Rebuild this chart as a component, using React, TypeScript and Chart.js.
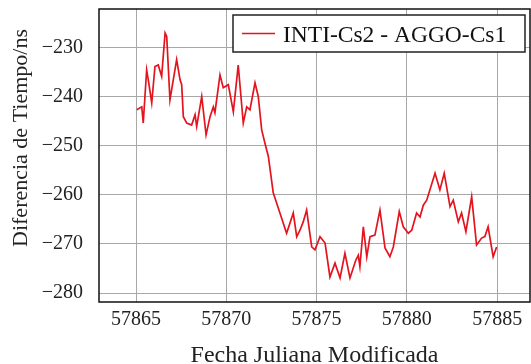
import React, { useEffect, useRef } from "react";
import { Chart, registerables } from "chart.js";

Chart.register(...registerables);

const mjd = [
  57865.04, 57865.32, 57865.4, 57865.59, 57865.68, 57865.87, 57866.05, 57866.23,
  57866.42, 57866.61, 57866.7, 57866.88, 57867.25, 57867.44, 57867.53, 57867.62, 57867.81,
  57868.08, 57868.27, 57868.36, 57868.64, 57868.88, 57869.1, 57869.28, 57869.37,
  57869.65, 57869.83, 57870.11, 57870.39, 57870.66, 57870.94, 57871.13, 57871.31,
  57871.59, 57871.77, 57871.96, 57872.14, 57872.33, 57872.6, 57872.97, 57873.34,
  57873.71, 57873.9, 57874.08, 57874.26, 57874.45, 57874.73, 57874.91, 57875.19,
  57875.47, 57875.74, 57876.02, 57876.3, 57876.57, 57876.85, 57877.17, 57877.31, 57877.4,
  57877.59, 57877.78, 57877.96, 57878.23, 57878.51, 57878.79, 57879.06, 57879.25,
  57879.58, 57879.8, 57880.08, 57880.27, 57880.54, 57880.73, 57880.91, 57881.1,
  57881.56, 57881.83, 57882.07, 57882.39, 57882.57, 57882.85, 57883.03, 57883.27,
  57883.59, 57883.86, 57884.14, 57884.32, 57884.5, 57884.78, 57884.97,
];

const delayNs = [
  -242.7, -242.1, -245.4, -234.6, -236.6, -241.3, -233.9, -233.6,
  -235.9, -227.1, -227.8, -240.7, -232.5, -236.6, -237.6, -244.1, -245.4,
  -245.8, -243.7, -246.1, -240.0, -247.8, -244.1, -242.1, -243.3,
  -235.6, -238.2, -237.6, -243.1, -233.6, -245.4, -242.1, -242.7,
  -237.2, -240.0, -246.8, -249.5, -252.2, -259.6, -263.7, -267.8,
  -263.7, -268.5, -267.2, -265.5, -263.1, -270.6, -271.2, -268.5,
  -269.8, -276.7, -273.9, -276.9, -271.9, -276.9, -273.3, -272.3, -274.6,
  -266.5, -272.6, -268.5, -268.2, -263.1, -270.8, -272.6, -270.6,
  -263.4, -266.5, -267.8, -267.2, -263.7, -264.5, -262.1, -261.1,
  -255.6, -259.0, -255.6, -262.4, -261.1, -265.5, -263.7, -267.5,
  -260.4, -270.2, -268.8, -268.5, -266.5, -272.6, -270.6,
];

const xTicks = [57865, 57870, 57875, 57880, 57885];
const yTicks = [-280, -270, -260, -250, -240, -230];

const seriesLabel = "INTI-Cs2 - AGGO-Cs1";
const xTitle = "Fecha Juliana Modificada";
const yTitle = "Diferencia de Tiempo/ns";

const FONT = "'Liberation Serif', 'DejaVu Serif', serif";
const LINE_COLOR = "#e3141e";

const decor = {
  id: "decor",
  afterDraw(chart: any) {
    const { ctx, chartArea } = chart;
    const { left, right, top, bottom } = chartArea;
    ctx.save();
    // frame
    ctx.strokeStyle = "#111";
    ctx.lineWidth = 1.5;
    ctx.strokeRect(left, top, right - left, bottom - top);

    // legend
    const bw = 292;
    const bh = 37;
    const bx = right - 5 - bw;
    const by = top + 6;
    ctx.fillStyle = "#fff";
    ctx.fillRect(bx, by, bw, bh);
    ctx.lineWidth = 1.5;
    ctx.strokeStyle = "#222";
    ctx.strokeRect(bx, by, bw, bh);
    ctx.strokeStyle = LINE_COLOR;
    ctx.lineWidth = 1.6;
    ctx.beginPath();
    ctx.moveTo(bx + 9, by + bh / 2);
    ctx.lineTo(bx + 42, by + bh / 2);
    ctx.stroke();
    ctx.fillStyle = "#111";
    ctx.font = `23.5px ${FONT}`;
    ctx.textAlign = "left";
    ctx.textBaseline = "alphabetic";
    ctx.fillText(seriesLabel, bx + 50, by + 27);

    // x title
    ctx.textAlign = "center";
    ctx.font = `24px ${FONT}`;
    ctx.fillStyle = "#222";
    ctx.fillText(xTitle, (left + right) / 2, 362);

    // y title
    ctx.font = `22px ${FONT}`;
    ctx.save();
    ctx.translate(27, 138);
    ctx.rotate(-Math.PI / 2);
    ctx.fillText(yTitle, 0, 0);
    ctx.restore();

    ctx.restore();
  },
};

export default function App() {
  const ref = useRef<HTMLCanvasElement>(null);
  useEffect(() => {
    if (!ref.current) return;
    const chart = new Chart(ref.current, {
      type: "line",
      data: {
        datasets: [
          {
            label: seriesLabel,
            data: mjd.map((x, i) => ({ x, y: delayNs[i] })),
            borderColor: LINE_COLOR,
            borderWidth: 1.7,
            pointRadius: 0,
            tension: 0,
          },
        ],
      },
      options: {
        animation: false,
        responsive: false,
        devicePixelRatio: 1,
        layout: { padding: { top: 9, right: 1, left: 0, bottom: 0 } },
        plugins: { legend: { display: false }, tooltip: { enabled: false } },
        scales: {
          x: {
            type: "linear",
            min: 57862.95,
            max: 57886.82,
            afterBuildTicks: (s: any) => {
              s.ticks = xTicks.map((v) => ({ value: v }));
            },
            afterFit: (s: any) => {
              s.height = 62;
              s.paddingLeft = 0;
              s.paddingRight = 0;
            },
            ticks: {
              font: { family: FONT, size: 20 },
              color: "#222",
              padding: 6,
              callback: (v: any) => String(v),
            },
            grid: { color: "#a8a8a8", lineWidth: 1, drawTicks: false },
            border: { display: false },
          },
          y: {
            type: "linear",
            min: -281.8,
            max: -222.2,
            afterBuildTicks: (s: any) => {
              s.ticks = yTicks.map((v) => ({ value: v }));
            },
            afterFit: (s: any) => {
              s.width = 99;
              s.paddingTop = 0;
              s.paddingBottom = 0;
            },
            ticks: {
              font: { family: FONT, size: 20 },
              color: "#222",
              padding: 16,
              callback: (v: any) => "\u2212" + Math.abs(Number(v)),
            },
            grid: { color: "#a8a8a8", lineWidth: 1, drawTicks: false },
            border: { display: false },
          },
        },
      },
      plugins: [decor],
    });
    return () => chart.destroy();
  }, []);
  return (
    <div style={{ position: "absolute", left: 0, top: 0, width: 531, height: 364, background: "#fff" }}>
      <canvas ref={ref} width={531} height={364} />
    </div>
  );
}
